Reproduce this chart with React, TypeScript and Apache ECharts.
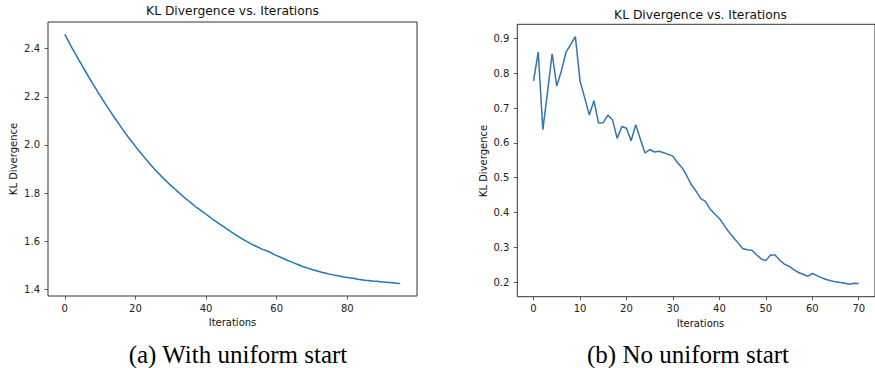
import React, { useEffect, useRef } from "react";
import * as echarts from "echarts";

// Left chart: with uniform start (iterations 0..95)
const leftValues: number[] = [
  2.459, 2.432, 2.404, 2.378, 2.352, 2.327,
  2.302, 2.277, 2.253, 2.229, 2.205,
  2.182, 2.159, 2.137, 2.115, 2.094,
  2.073, 2.052, 2.032, 2.013, 1.994,
  1.976, 1.958, 1.94, 1.923, 1.906,
  1.89, 1.875, 1.86, 1.846, 1.832,
  1.819, 1.806, 1.793, 1.78, 1.768,
  1.756, 1.744, 1.733, 1.723, 1.712,
  1.701, 1.69, 1.68, 1.67, 1.66,
  1.65, 1.64, 1.63, 1.621, 1.612,
  1.603, 1.595, 1.587, 1.58, 1.573,
  1.566, 1.561, 1.555, 1.547, 1.54,
  1.534, 1.527, 1.521, 1.515, 1.509,
  1.503, 1.497, 1.492, 1.487, 1.482,
  1.478, 1.474, 1.47, 1.467, 1.463,
  1.46, 1.457, 1.454, 1.451, 1.449,
  1.447, 1.445, 1.442, 1.44, 1.438,
  1.437, 1.435, 1.433, 1.432, 1.43,
  1.429, 1.428, 1.427, 1.425, 1.424,
];

// Right chart: no uniform start (iterations 0..70)
const rightValues: number[] = [
  0.778, 0.861, 0.638, 0.745, 0.856, 0.763, 0.807, 0.861, 0.883, 0.905,
  0.778, 0.73, 0.68, 0.721, 0.657, 0.658, 0.68, 0.666, 0.613, 0.647,
  0.642, 0.606, 0.652, 0.61, 0.571, 0.581, 0.574, 0.576, 0.572, 0.567,
  0.562, 0.543, 0.528, 0.505, 0.479, 0.461, 0.44, 0.432, 0.41, 0.396,
  0.383, 0.364, 0.345, 0.329, 0.313, 0.297, 0.293, 0.292, 0.279, 0.267,
  0.262, 0.278, 0.278, 0.263, 0.252, 0.246, 0.236, 0.228, 0.223, 0.217,
  0.225, 0.219, 0.213, 0.208, 0.204, 0.201, 0.199, 0.197, 0.194, 0.197,
  0.196,
];

const leftXTicks = [0, 20, 40, 60, 80];
const leftYTicks = [1.4, 1.6, 1.8, 2.0, 2.2, 2.4];
const rightXTicks = [0, 10, 20, 30, 40, 50, 60, 70];
const rightYTicks = [0.2, 0.3, 0.4, 0.5, 0.6, 0.7, 0.8, 0.9];

const titleText = "KL Divergence vs. Iterations";
const xName = "Iterations";
const yName = "KL Divergence";
const captionA = "(a) With uniform start";
const captionB = "(b) No uniform start";

const FONT = "DejaVu Sans";
const TXT = "#222";
const FRAME = "#333";

function xAxisCfg(gridIndex: number, min: number, max: number, ticks: number[]) {
  return {
    type: "value",
    gridIndex,
    min,
    max,
    axisLine: { show: false, onZero: false },
    splitLine: { show: false },
    axisTick: {
      show: true,
      customValues: ticks,
      length: 3.5,
      inside: false,
      lineStyle: { color: FRAME, width: 0.8 },
    },
    axisLabel: {
      show: true,
      customValues: ticks,
      margin: 7,
      fontFamily: FONT,
      fontSize: 10,
      color: TXT,
      formatter: (v: number) => String(Math.round(v)),
    },
  };
}

function yAxisCfg(gridIndex: number, min: number, max: number, ticks: number[]) {
  return {
    type: "value",
    gridIndex,
    min,
    max,
    axisLine: { show: false, onZero: false },
    splitLine: { show: false },
    axisTick: {
      show: true,
      customValues: ticks,
      length: 3.5,
      inside: false,
      lineStyle: { color: FRAME, width: 0.8 },
    },
    axisLabel: {
      show: true,
      customValues: ticks,
      margin: 8,
      fontFamily: FONT,
      fontSize: 10,
      color: TXT,
      formatter: (v: number) => v.toFixed(1),
    },
  };
}

function label(text: string, x: number, y: number, size: number, extra: any = {}) {
  return {
    type: "text",
    x,
    y,
    silent: true,
    style: {
      text,
      fontFamily: FONT,
      fontSize: size,
      fill: "#111",
      textAlign: "center",
      textVerticalAlign: "middle",
    },
    ...extra,
  };
}

export default function App() {
  const ref = useRef<HTMLDivElement>(null);

  useEffect(() => {
    if (!ref.current) return;
    const chart = echarts.init(ref.current, undefined, { renderer: "svg" });

    const option: any = {
      animation: false,
      backgroundColor: "#fff",
      grid: [
        {
          left: 48,
          top: 22,
          width: 369,
          height: 274,
          show: true,
          borderColor: FRAME,
          borderWidth: 1,
          backgroundColor: "transparent",
        },
        {
          left: 517.3,
          top: 24.3,
          width: 366.4,
          height: 272.4,
          show: true,
          borderColor: FRAME,
          borderWidth: 1,
          backgroundColor: "transparent",
        },
      ],
      xAxis: [
        xAxisCfg(0, -4.75, 99.75, leftXTicks),
        xAxisCfg(1, -3.5, 73.5, rightXTicks),
      ],
      yAxis: [
        yAxisCfg(0, 1.3722, 2.5108, leftYTicks),
        yAxisCfg(1, 0.1584, 0.9406, rightYTicks),
      ],
      series: [
        {
          type: "line",
          xAxisIndex: 0,
          yAxisIndex: 0,
          data: leftValues.map((v, i) => [i, v]),
          showSymbol: false,
          symbol: "none",
          lineStyle: { color: "#1f77b4", width: 1.5 },
        },
        {
          type: "line",
          xAxisIndex: 1,
          yAxisIndex: 1,
          data: rightValues.map((v, i) => [i, v]),
          showSymbol: false,
          symbol: "none",
          lineStyle: { color: "#3474b0", width: 1.5 },
        },
      ],
      graphic: [
        label(titleText, 232.5, 11, 12.3),
        label(titleText, 700.5, 14.5, 12.3),
        label(xName, 232.5, 322.3, 10),
        label(xName, 700.5, 323.3, 10),
        label(yName, 13.3, 159, 10, { rotation: Math.PI / 2 }),
        label(yName, 483.3, 161, 10, { rotation: Math.PI / 2 }),
        {
          type: "text",
          x: 238,
          y: 354,
          silent: true,
          style: {
            text: captionA,
            fontFamily: "Liberation Serif",
            fontSize: 25,
            fill: "#000",
            textAlign: "center",
            textVerticalAlign: "middle",
          },
        },
        {
          type: "text",
          x: 688,
          y: 354,
          silent: true,
          style: {
            text: captionB,
            fontFamily: "Liberation Serif",
            fontSize: 25,
            fill: "#000",
            textAlign: "center",
            textVerticalAlign: "middle",
          },
        },
      ],
    };

    chart.setOption(option);
    return () => chart.dispose();
  }, []);

  return (
    <div
      ref={ref}
      style={{ position: "fixed", left: 0, top: 0, width: 875, height: 368 }}
    />
  );
}
